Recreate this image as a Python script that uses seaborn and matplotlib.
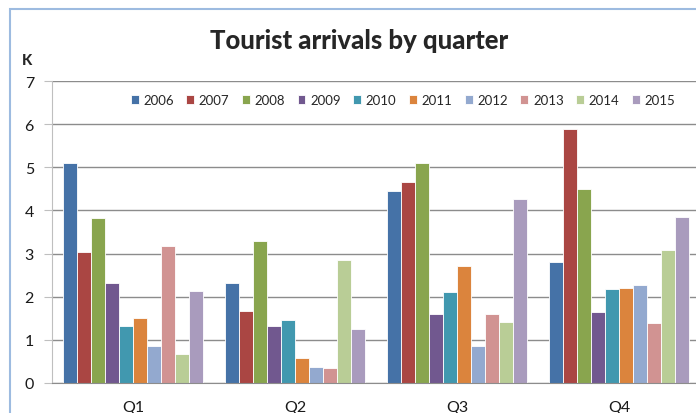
import matplotlib
matplotlib.use("Agg")
import matplotlib.pyplot as plt
import seaborn as sns
import pandas as pd
from matplotlib.patches import Rectangle

quarters = ["Q1", "Q2", "Q3", "Q4"]
years = ["2006", "2007", "2008", "2009", "2010", "2011", "2012", "2013", "2014", "2015"]
v2006 = [5.10, 2.31, 4.44, 2.81]
v2007 = [3.04, 1.66, 4.65, 5.88]
v2008 = [3.82, 3.30, 5.11, 4.49]
v2009 = [2.31, 1.33, 1.59, 1.65]
v2010 = [1.33, 1.46, 2.12, 2.17]
v2011 = [1.50, 0.59, 2.71, 2.20]
v2012 = [0.86, 0.37, 0.85, 2.27]
v2013 = [3.18, 0.35, 1.59, 1.40]
v2014 = [0.68, 2.85, 1.41, 3.08]
v2015 = [2.14, 1.26, 4.27, 3.84]
colors = ["#4572A7", "#AA4643", "#89A54E", "#71588F", "#4198AF",
          "#DB843D", "#93A9CF", "#D19392", "#B9CD96", "#A99BBD"]

series = [v2006, v2007, v2008, v2009, v2010, v2011, v2012, v2013, v2014, v2015]
rows = []
for y, vals in zip(years, series):
    for q, v in zip(quarters, vals):
        rows.append({"quarter": q, "year": y, "value": v})
df = pd.DataFrame(rows)

sns.set_style("white")
plt.rcParams["font.family"] = ["Lato", "DejaVu Sans"]

W, H = 696, 414
fig = plt.figure(figsize=(W / 100, H / 100), dpi=100)
fig.patch.set_facecolor("white")

# chart border (cropped Excel chart)
fig.patches.append(Rectangle((10 / W, -0.1), 1.2, (H - 10) / H + 0.1,
                             transform=fig.transFigure, fill=False,
                             edgecolor="#9DBBE0", linewidth=1.5))

x0, x1 = 52, 700
y0, y1 = 384, 82
ax = fig.add_axes([x0 / W, (H - y0) / H, (x1 - x0) / W, (y0 - y1) / H])

sns.barplot(data=df, x="quarter", y="value", hue="year", palette=colors,
            order=quarters, hue_order=years, width=0.865, saturation=1,
            edgecolor="white", linewidth=0.6, ax=ax, legend=True)

ax.set_ylim(0, 7)
ax.set_xlim(-0.5, 3.5)
ax.set_yticks(range(0, 8))
ax.yaxis.grid(True, color="#8C8C8C", linewidth=1)
ax.set_axisbelow(True)
for s in ["top", "right"]:
    ax.spines[s].set_visible(False)
ax.spines["left"].set_color("#BFBFBF")
ax.spines["bottom"].set_color("#8C8C8C")
ax.tick_params(axis="y", left=True, length=6, color="#BFBFBF", labelsize=11.5,
               pad=7, labelcolor="#1A1A1A")
ax.tick_params(axis="x", bottom=False, labelsize=11.5, pad=9, labelcolor="#1A1A1A")
ax.set_xlabel("")
ax.set_ylabel("")

leg = ax.legend(loc="center", bbox_to_anchor=(403 / W, (H - 101) / H),
                bbox_transform=fig.transFigure, ncol=10, frameon=False,
                handlelength=0.6, handleheight=0.6, handletextpad=0.35,
                columnspacing=0.95, fontsize=9.5)

fig.text(359 / W, (H - 41) / H, "Tourist arrivals by quarter", ha="center",
         va="center", fontsize=18.5, fontweight="black")
fig.text(27 / W, (H - 61) / H, "K", ha="center", va="center",
         fontsize=10.5, fontweight="black")

fig.savefig("out.png", dpi=100)
